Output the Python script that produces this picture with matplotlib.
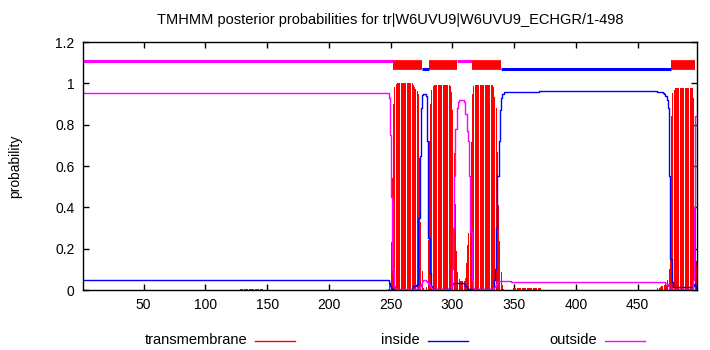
import numpy as np
import matplotlib
matplotlib.use("Agg")
import matplotlib.pyplot as plt
from matplotlib.lines import Line2D

plt.rcParams['font.family'] = ['Liberation Sans', 'DejaVu Sans']

seq_name = "tr|W6UVU9|W6UVU9_ECHGR"
seq_len = 498

# posterior probabilities per residue (1..498)
transmembrane = ([0.0]*127 + [0.004]*19 + [0.0]*101
                 + [0.003, 0.035, 0.23, 0.54, 0.9, 0.98, 0.995]
                 + [1.0]*13
                 + [0.99, 0.98, 0.975, 0.965, 0.95, 0.64, 0.33, 0.09, 0.01, 0.0,
                    0.0, 0.015, 0.24, 0.72, 0.9, 0.97, 0.986]
                 + [0.99]*12
                 + [0.99, 0.985, 0.96, 0.87, 0.665, 0.415, 0.19, 0.085, 0.055, 0.045,
                    0.045, 0.045, 0.045, 0.06, 0.13, 0.22, 0.277, 0.447, 0.717, 0.947,
                    0.987, 0.992]
                 + [0.993]*14
                 + [0.98, 0.935, 0.88, 0.67, 0.41, 0.235, 0.085, 0.025, 0.005]
                 + [0.0]*7 + [0.008]*23 + [0.0]*94
                 + [0.01, 0.01, 0.015, 0.02, 0.02, 0.025, 0.03, 0.025, 0.05, 0.1,
                    0.44, 0.84, 0.955, 0.97]
                 + [0.978]*14
                 + [0.978, 0.93, 0.57, 0.14, 0.15])

inside = ([0.047]*248
          + [0.035, 0.02, 0.01, 0.005]
          + [0.002]*15
          + [0.01, 0.02, 0.02, 0.025, 0.03, 0.35, 0.65, 0.88, 0.945, 0.95,
             0.95, 0.94, 0.72, 0.25, 0.08, 0.02, 0.01]
          + [0.005]*13
          + [0.01, 0.02, 0.03]
          + [0.035]*9
          + [0.03, 0.02, 0.01]
          + [0.003]*20
          + [0.01, 0.05, 0.1, 0.3, 0.55, 0.72, 0.87, 0.93, 0.95]
          + [0.96]*29 + [0.965]*95 + [0.96]*5
          + [0.955, 0.95, 0.94, 0.92, 0.88, 0.55, 0.15, 0.04]
          + [0.015]*16
          + [0.02, 0.03, 0.02, 0.01])

outside = ([0.952]*248
           + [0.93, 0.75, 0.45, 0.1, 0.02]
           + [0.004]*19
           + [0.01, 0.02, 0.03, 0.045, 0.05, 0.05, 0.045, 0.04, 0.03, 0.02, 0.01]
           + [0.004]*15
           + [0.02, 0.1, 0.3, 0.55, 0.78, 0.88, 0.91, 0.92, 0.92, 0.92,
              0.92, 0.91, 0.85, 0.77, 0.72, 0.55, 0.28, 0.05, 0.01, 0.005]
           + [0.004]*14
           + [0.01, 0.015, 0.02, 0.03, 0.04]
           + [0.045]*10 + [0.037]*125
           + [0.035, 0.03, 0.02, 0.01]
           + [0.005]*18
           + [0.05, 0.4, 0.84, 0.84])

# predicted topology drawn above the curves
topo_start = [1, 252, 275, 281, 304, 316, 339, 477]
topo_end = [252, 275, 281, 304, 316, 339, 477, 496]
topo_state = ['outside', 'TM', 'inside', 'TM', 'outside', 'TM', 'inside', 'TM']

x = np.arange(1, seq_len + 1)

fig = plt.figure(figsize=(7.1, 3.5), dpi=100)
ax = fig.add_axes([83/710, 1-290/350, 614/710, 248/350])

ax.vlines(x, 0, transmembrane, color='#ff0000', lw=0.7, antialiased=False)
ax.plot(x, inside, drawstyle='steps-mid', color='#0000ff', lw=1.0)
ax.plot(x, outside, drawstyle='steps-mid', color='#ff00ff', lw=1.0)

topo_style = {'outside': (1.108, '#ff00ff', 2.2),
              'TM': (1.089, '#ff0000', 7.0),
              'inside': (1.068, '#0000ff', 2.2)}
for s, e, st in zip(topo_start, topo_end, topo_state):
    yy, col, w = topo_style[st]
    ax.plot([s, e], [yy, yy], color=col, lw=w, solid_capstyle='butt')

ax.set_xlim(1, seq_len)
ax.set_ylim(0, 1.2)
ax.set_xticks(np.arange(50, 451, 50))
yt = [0, 0.2, 0.4, 0.6, 0.8, 1.0, 1.2]
ax.set_yticks(yt)
ax.set_yticklabels(['%g' % v for v in yt])
ax.tick_params(direction='in', length=4, width=1, top=True, right=True,
               labelsize=10, pad=6, colors='black')
for sp in ax.spines.values():
    sp.set_linewidth(1)
ax.set_ylabel('probability', fontsize=10)
ax.yaxis.set_label_coords((22-83)/614, 0.5)

fig.text(390/710, 1-20/350, 'TMHMM posterior probabilities for %s/1-%d' % (seq_name, seq_len),
         ha='center', va='center', fontsize=10.5)

# legend along the bottom, gnuplot style
leg_labels = ['transmembrane', 'inside', 'outside']
leg_colors = ['#ff0000', '#0000ff', '#ff00ff']
leg_right = [247, 420, 597]
for lab, col, xr in zip(leg_labels, leg_colors, leg_right):
    fig.text(xr/710, 1-340/350, lab, ha='right', va='center', fontsize=10.5)
    fig.add_artist(Line2D([(xr+8)/710, (xr+48)/710], [1-341/350, 1-341/350],
                          color=col, lw=1.0, transform=fig.transFigure))

fig.savefig('out.png', dpi=100)
